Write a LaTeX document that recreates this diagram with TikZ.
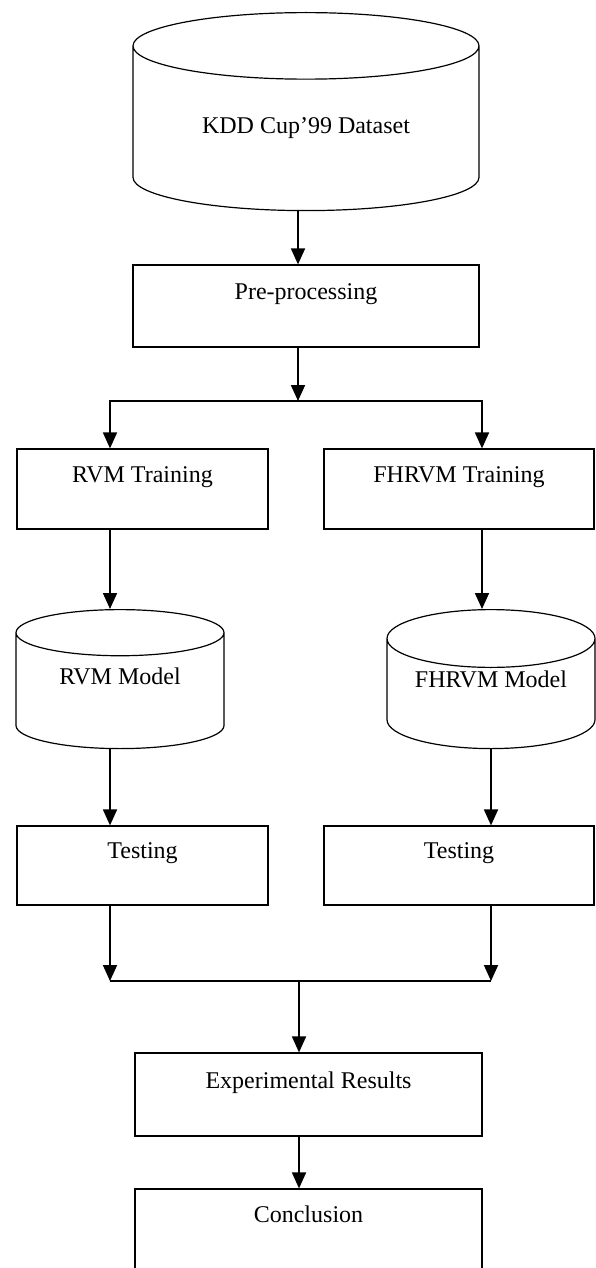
\documentclass[tikz,border=0pt]{standalone}
\usepackage{fontspec}
\setmainfont{Liberation Serif}
\usepackage{tikz}
\usetikzlibrary{
  arrows.meta,
  positioning,
  shapes.geometric,
  calc
}
\tikzset{
  procbox/.style={draw, line width=0.6pt, inner sep=0pt,
    align=center, font=\fontsize{12}{14.5}\selectfont},
  dbase/.style={draw, line width=0.6pt, inner sep=0pt, cylinder,
    shape border rotate=90, align=center, anchor=north,
    font=\fontsize{12}{14.5}\selectfont},
  arr/.style={-{Triangle[length=8pt, width=7pt]}, line width=0.9pt},
  plain/.style={line width=0.9pt},
}

\begin{document}
\begin{tikzpicture}[x=0.5pt, y=-0.5pt]
  \useasboundingbox (0,0) rectangle (595,1268);

  % dataset
  \node[dbase, aspect=0.32, minimum width=173pt, minimum height=99pt]
    (kdd) at (306,12) {KDD Cup'99 Dataset};
  % pre-processing
  \node[procbox, minimum width=173pt, minimum height=41pt]
    (pre) at (306,306) {Pre-processing\\~};

  % training
  \node[procbox, minimum width=125.5pt, minimum height=40pt]
    (rvmtr) at (142.5,489) {RVM Training\\~};
  \node[procbox, minimum width=135pt, minimum height=40pt]
    (fhtr) at (459,489) {FHRVM Training\\~};

  % models
  \node[dbase, aspect=0.38, minimum width=104pt, minimum height=69.5pt]
    (rvmmod) at (120,609) {RVM Model\\~};
  \node[dbase, aspect=0.38, minimum width=104pt, minimum height=69.5pt]
    (fhmod) at (491,609) {FHRVM Model\\~};

  % testing
  \node[procbox, minimum width=125.5pt, minimum height=39.5pt]
    (rvmtest) at (142.5,865.5) {Testing\\~};
  \node[procbox, minimum width=135pt, minimum height=39.5pt]
    (fhtest) at (459,865.5) {Testing\\~};

  % results
  \node[procbox, minimum width=173.5pt, minimum height=41.5pt]
    (exp) at (308.5,1094.5) {Experimental Results\\~};
  \node[procbox, minimum width=173.5pt, minimum height=40pt]
    (concl) at (308.5,1229) {Conclusion\\~};

  % branch points
  \coordinate (split) at (298,401);
  \coordinate (merge) at (299,981);
  \coordinate (lcol) at (110,0);
  \coordinate (rcol) at (482,0);
  \coordinate (rcolb) at (491,0);

  % connectors
  \draw[arr] (kdd.south -| split) -- (pre.north -| split);
  \draw[arr] (pre.south -| split) -- (split);
  \draw[arr] (split) -| (rvmtr.north -| lcol);
  \draw[arr] (split) -| (fhtr.north -| rcol);
  \draw[arr] (rvmtr.south -| lcol) -- (rvmmod.north -| lcol);
  \draw[arr] (fhtr.south -| rcol) -- (fhmod.north -| rcol);
  \draw[arr] (rvmmod.south -| lcol) -- (rvmtest.north -| lcol);
  \draw[arr] (fhmod.south -| rcolb) -- (fhtest.north -| rcolb);
  \draw[arr] (rvmtest.south -| lcol) -- (merge -| lcol);
  \draw[arr] (fhtest.south -| rcolb) -- (merge -| rcolb);
  \draw[plain] (merge -| lcol) -- (merge -| rcolb);
  \draw[arr] (merge) -- (exp.north -| merge);
  \draw[arr] (exp.south -| merge) -- (concl.north -| merge);
\end{tikzpicture}
\end{document}
